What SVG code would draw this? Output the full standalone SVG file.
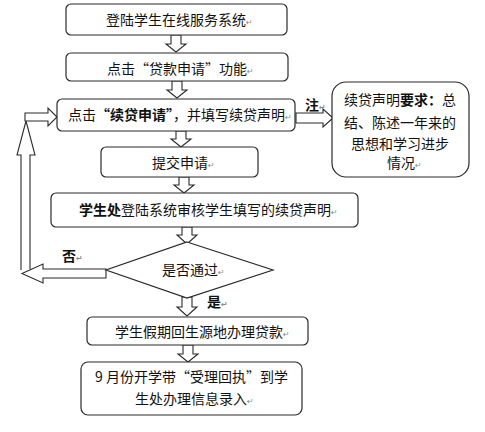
<svg xmlns="http://www.w3.org/2000/svg" width="485" height="432" viewBox="0 0 485 432">
<style>
.box{fill:#fff;stroke:#2a2a2a;stroke-width:1.2}
.arr{fill:#fff;stroke:#2a2a2a;stroke-width:1.1;stroke-linejoin:miter}
text{font-family:"Noto Sans CJK SC","Noto Sans CJK TC",sans-serif;font-size:14px;fill:#111}
.b{font-weight:bold}
.rt{font-family:"DejaVu Sans",sans-serif;font-size:8px;fill:#8a8a8a}
</style>
<rect width="485" height="432" fill="#fff"/>
<g id="connectors">
<path class="arr" d="M171 35 V44 H166 L176 52 L186 44 H181 V35 Z"/>
<path class="arr" d="M172 81 V90 H167 L177 98 L187 90 H182 V81 Z"/>
<path class="arr" d="M176 131 V139 H171 L181 147 L191 139 H186 V131 Z"/>
<path class="arr" d="M179 177 V185 H174 L184 193 L194 185 H189 V177 Z"/>
<path class="arr" d="M182 227 V235 H177 L187 244 L197 235 H192 V227 Z"/>
<path class="arr" d="M182 297 V307 H177 L187 316 L197 307 H192 V297 Z"/>
<path class="arr" d="M183 345 V354 H178 L188 362 L198 354 H193 V345 Z"/>
<path class="arr" d="M296 113 H323 V109 L333 118 L323 127 V123 H296 Z"/>
<path class="arr" d="M106 269 H43 V264 L22 273.5 L43 283 V278 H106 Z"/>
<path class="arr" d="M21 270 V155 H17 L26 121 L35 155 H30 V270"/>
<path class="arr" d="M25 113 H48 V108 L57 117 L48 126 V121 H25 Z"/>
</g>
<g id="n1"><rect class="box" x="66" y="4" width="221" height="31" rx="5"/><text x="106" y="25">登陆学生在线服务系统<tspan class="rt">↵</tspan></text></g>
<g id="n2"><rect class="box" x="66" y="53" width="222" height="28" rx="5"/><text x="107" y="74">点击“贷款申请”功能<tspan class="rt">↵</tspan></text></g>
<g id="n3"><rect class="box" x="57" y="99" width="238" height="32" rx="5"/><text x="68" y="120">点击<tspan class="b">“续贷申请”</tspan>，并填写续贷声明<tspan class="rt">↵</tspan></text></g>
<g id="note"><rect class="box" x="332" y="82" width="137" height="95" rx="14"/>
<text x="400" y="105" text-anchor="middle">续贷声明<tspan class="b">要求：</tspan>总</text>
<text x="400" y="128" text-anchor="middle">结、陈述一年来的</text>
<text x="400" y="149" text-anchor="middle">思想和学习进步</text>
<text x="387" y="168">情况<tspan class="rt">↵</tspan></text>
</g>
<g id="lbl-zhu"><text class="b" x="305" y="110">注<tspan class="rt">↵</tspan></text></g>
<g id="n4"><rect class="box" x="101" y="147" width="157" height="30" rx="5"/><text x="152" y="168">提交申请<tspan class="rt">↵</tspan></text></g>
<g id="n5"><rect class="box" x="51" y="193" width="307" height="34" rx="5"/><text x="79" y="215"><tspan class="b">学生处</tspan>登陆系统审核学生填写的续贷声明<tspan class="rt">↵</tspan></text></g>
<g id="decision"><polygon class="box" points="187,242 273,270 187,298 106,270"/><text x="162" y="275">是否通过<tspan class="rt">↵</tspan></text></g>
<g id="lbl-no"><text class="b" x="62" y="261">否<tspan class="rt">↵</tspan></text></g>
<g id="lbl-yes"><text class="b" x="207" y="307">是<tspan class="rt">↵</tspan></text></g>
<g id="n6"><rect class="box" x="87" y="317" width="221" height="28" rx="5"/><text x="115" y="337">学生假期回生源地办理贷款<tspan class="rt">↵</tspan></text></g>
<g id="n7"><rect class="box" x="81" y="362" width="221" height="53" rx="7"/><text x="95" y="382">9 月份开学带“受理回执”到学</text><text x="135" y="404">生处办理信息录入<tspan class="rt">↵</tspan></text></g>
</svg>
